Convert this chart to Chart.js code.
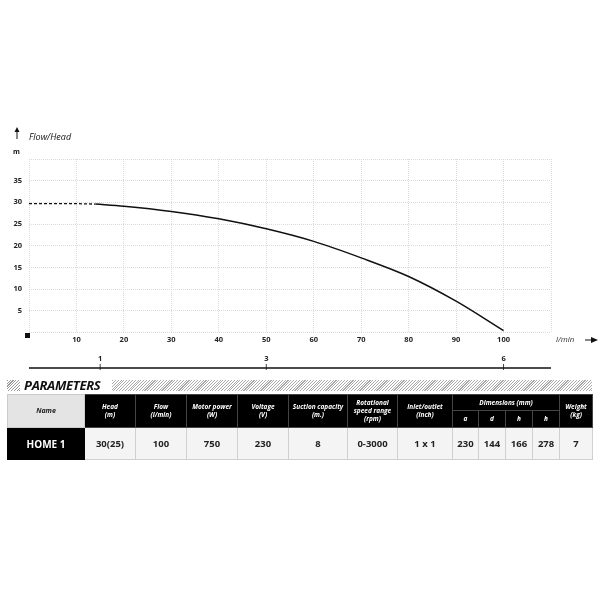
<!DOCTYPE html>
<html>
<head>
<meta charset="utf-8">
<script src="https://cdn.jsdelivr.net/npm/chart.js@4"></script>
<style>
body{margin:0;background:#fff;font-family:"Open Sans",sans-serif;}
#wrap{position:absolute;left:0;top:120px;width:600px;height:260px;}
#paramHead{position:absolute;left:7px;top:379px;width:585px;height:13px;}
#paramHead .box{position:absolute;left:0;top:1px;width:13px;height:11px;
  background:repeating-linear-gradient(-45deg,#999 0 0.8px,#fff 0.8px 2px);}
#paramHead .band{position:absolute;left:105px;top:1px;right:0;height:11px;
  background:repeating-linear-gradient(-45deg,#aaa 0 0.8px,#fff 0.8px 2px);}
#paramHead .txt{position:absolute;left:17px;top:-3px;font-size:13px;font-weight:700;font-style:italic;color:#111;letter-spacing:-0.3px;}
table{position:absolute;left:7px;top:394px;border-collapse:collapse;table-layout:fixed;width:585px;}
th{background:#000;color:#fff;font-style:italic;font-weight:700;font-size:6.5px;line-height:8px;border:1px solid #444;padding:0;text-align:center;}
th.name{background:#e4e4e4;color:#222;font-size:7px;border-color:#ccc;}
td{background:#f4f4f4;color:#222;font-weight:700;font-size:9.5px;text-align:center;border:1px solid #d0d0d0;height:31px;padding:0;}
td.name{background:#000;color:#fff;font-size:10px;border-color:#000;}
</style>
</head>
<body>
<div id="wrap"><canvas id="pumpChart" width="600" height="260"></canvas></div>

<div id="paramHead"><div class="box"></div><div class="txt">PARAMETERS</div><div class="band"></div></div>

<table>
  <colgroup>
    <col style="width:77px"><col style="width:51px"><col style="width:51px"><col style="width:51px"><col style="width:51px">
    <col style="width:59px"><col style="width:50px"><col style="width:55px">
    <col style="width:26px"><col style="width:27px"><col style="width:27px"><col style="width:27px"><col style="width:33px">
  </colgroup>
  <tr style="height:16px">
    <th class="name" rowspan="2">Name</th>
    <th rowspan="2">Head<br>(m)</th>
    <th rowspan="2">Flow<br>(l/min)</th>
    <th rowspan="2">Motor power<br>(W)</th>
    <th rowspan="2">Voltage<br>(V)</th>
    <th rowspan="2">Suction capacity<br>(m.)</th>
    <th rowspan="2">Rotational<br>speed range<br>(rpm)</th>
    <th rowspan="2">Inlet/outlet<br>(inch)</th>
    <th colspan="4">Dimensions (mm)</th>
    <th rowspan="2">Weight<br>(kg)</th>
  </tr>
  <tr style="height:17px">
    <th>a</th><th>d</th><th>h</th><th>h</th>
  </tr>
  <tr>
    <td class="name">HOME 1</td><td>30(25)</td><td>100</td><td>750</td><td>230</td>
    <td>8</td><td>0-3000</td><td>1 x 1</td><td>230</td><td>144</td><td>166</td><td>278</td><td>7</td>
  </tr>
</table>

<script>
// ==========================
// DATA
// ==========================
const dashFlow = [0, 10, 14];
const dashHead = [29.7, 29.7, 29.6];

const curveFlow = [14, 20, 30, 40, 50, 60, 70, 80, 90, 100];
const curveHead = [29.6, 29.1, 27.9, 26.2, 23.9, 21.0, 17.2, 12.9, 7.2, 0.4];

// second scale under the chart (m3/h)
const m3Pos = [15, 50, 100];
const m3Labels = ["1", "3", "6"];

const tickFont = {family:"Open Sans", size:7.5, weight:"bold"};

// ==========================
// EXTRA DRAWING (arrows, units, m3 line)
// ==========================
const decor = {
  id:"decor",
  afterDraw(chart){
    const ctx = chart.ctx;
    const area = chart.chartArea;
    const x2 = chart.scales.x2;
    ctx.save();
    ctx.fillStyle = "#111";
    ctx.strokeStyle = "#111";

    // y arrow + title
    ctx.lineWidth = 1;
    ctx.beginPath(); ctx.moveTo(17, 19); ctx.lineTo(17, 11); ctx.stroke();
    ctx.beginPath(); ctx.moveTo(14.5, 12); ctx.lineTo(17, 7); ctx.lineTo(19.5, 12); ctx.closePath(); ctx.fill();
    ctx.font = "italic 9px 'Open Sans'";
    ctx.textBaseline = "middle";
    ctx.fillText("Flow/Head", 29, 17);
    ctx.font = "bold 7px 'Open Sans'";
    ctx.fillText("m", 13, 32);

    // origin square
    ctx.fillRect(25, 213, 5, 5);

    // x unit + arrow
    ctx.font = "italic 8px 'Open Sans'";
    ctx.fillStyle = "#333";
    ctx.fillText("l/min", 556, 220);
    ctx.fillStyle = "#111";
    ctx.beginPath(); ctx.moveTo(585, 220); ctx.lineTo(592, 220); ctx.stroke();
    ctx.beginPath(); ctx.moveTo(591, 217); ctx.lineTo(598, 220); ctx.lineTo(591, 223); ctx.closePath(); ctx.fill();

    // m3/h line with small ticks
    const yLine = 248;
    ctx.lineWidth = 1.6;
    ctx.beginPath(); ctx.moveTo(area.left, yLine); ctx.lineTo(area.right, yLine); ctx.stroke();
    ctx.lineWidth = 0.8;
    m3Pos.forEach(v => {
      const px = x2.getPixelForValue(v);
      ctx.beginPath(); ctx.moveTo(px, yLine - 4); ctx.lineTo(px, yLine + 2); ctx.stroke();
    });
    ctx.restore();
  }
};

// ==========================
// CHART
// ==========================
new Chart(document.getElementById("pumpChart"), {
  type:"line",
  data:{
    datasets:[
      {
        data: dashFlow.map((f, i) => ({x:f, y:dashHead[i]})),
        borderColor:"#111", borderWidth:1.3, borderDash:[3, 2],
        pointRadius:0, tension:0
      },
      {
        data: curveFlow.map((f, i) => ({x:f, y:curveHead[i]})),
        borderColor:"#111", borderWidth:1.5,
        pointRadius:0, cubicInterpolationMode:"monotone"
      }
    ]
  },
  options:{
    responsive:false,
    animation:false,
    layout:{padding:{top:39, right:49, bottom:11, left:0}},
    plugins:{legend:{display:false}, tooltip:{enabled:false}},
    scales:{
      x:{
        type:"linear", min:0, max:110, weight:0,
        ticks:{stepSize:10, font:tickFont, color:"#222", padding:3, maxRotation:0,
          callback:v => (v === 0 || v === 110) ? "" : v},
        grid:{color:"#d4d4d4", lineWidth:0.8, drawTicks:false},
        border:{display:false, dash:[1, 1]},
        afterFit:s => { s.height = 19; }
      },
      x2:{
        type:"linear", min:0, max:110, position:"bottom", weight:1,
        afterBuildTicks:s => { s.ticks = m3Pos.map(v => ({value:v})); },
        ticks:{font:tickFont, color:"#222", padding:3, maxRotation:0, autoSkip:false,
          callback:v => m3Labels[m3Pos.indexOf(v)]},
        grid:{display:false, drawTicks:false},
        border:{display:false},
        afterFit:s => { s.height = 17.6; }
      },
      y:{
        min:0, max:40,
        ticks:{stepSize:5, font:tickFont, color:"#222", padding:7,
          callback:v => (v === 0 || v === 40) ? "" : v},
        grid:{color:"#d4d4d4", lineWidth:0.8, drawTicks:false},
        border:{display:false, dash:[1, 1]},
        afterFit:s => { s.width = 29; }
      }
    }
  },
  plugins:[decor]
});
</script>
</body>
</html>
